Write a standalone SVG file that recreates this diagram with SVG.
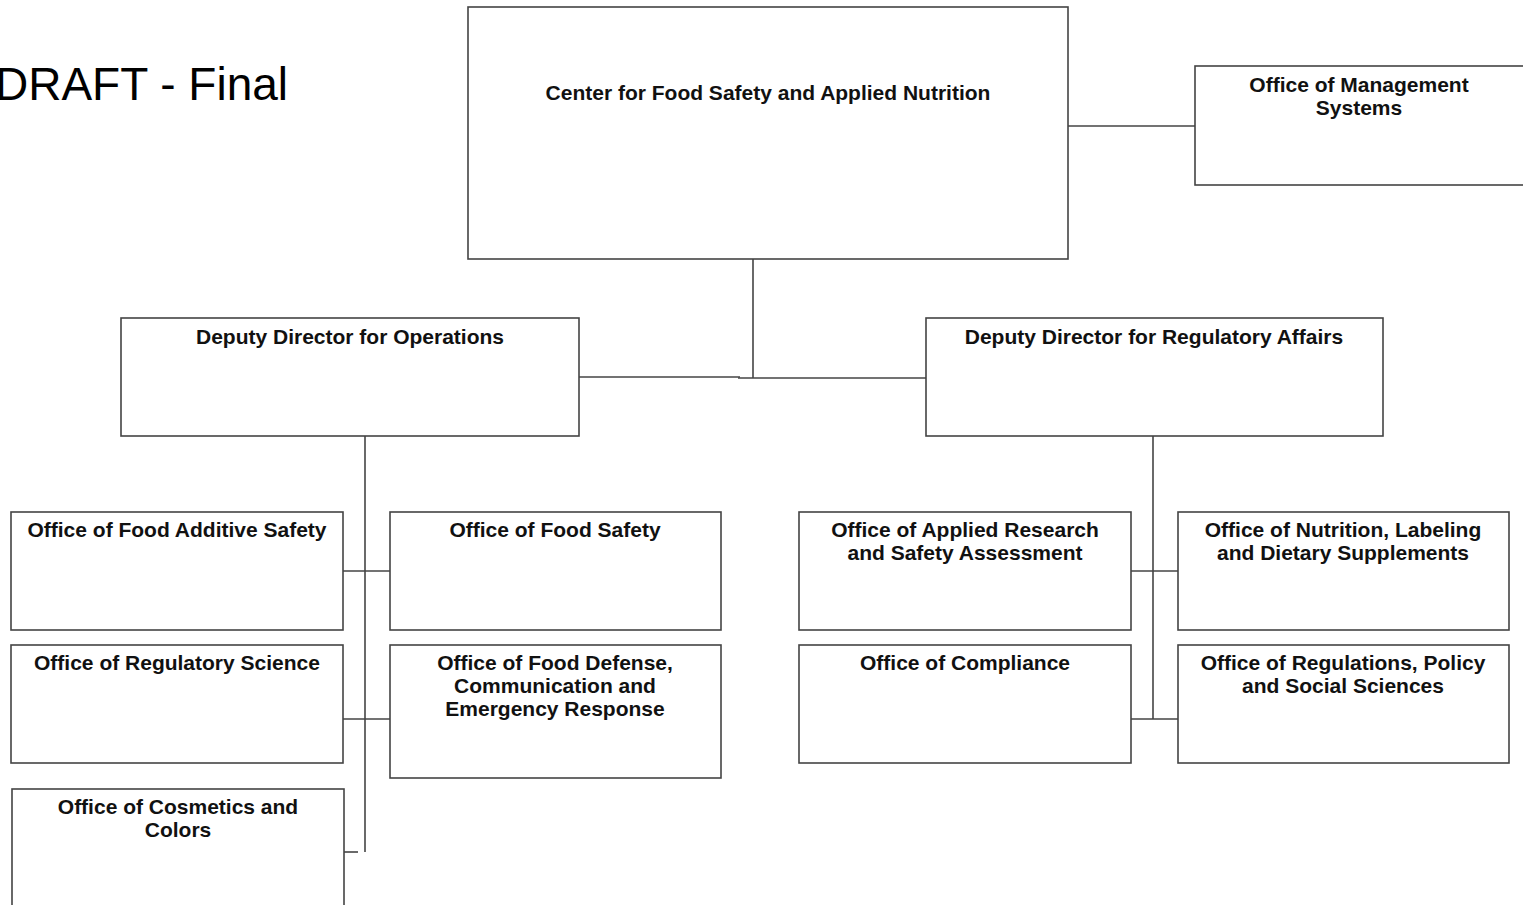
<svg xmlns="http://www.w3.org/2000/svg" width="1523" height="905" viewBox="0 0 1523 905">
<style>
.box{fill:#fff;stroke:#444;stroke-width:1.6}
.ln{fill:none;stroke:#444;stroke-width:1.6}
.t{font-family:"Liberation Sans",Arial,sans-serif;font-weight:bold;font-size:21px;fill:#111;text-anchor:middle}
.d{font-family:"Liberation Sans",Arial,sans-serif;font-size:46px;fill:#000}
</style>
<rect width="1523" height="905" fill="#fff"/>
<text class="d" x="-5" y="100">DRAFT - Final</text>
<g id="connectors">
<line class="ln" x1="1068" y1="126" x2="1195" y2="126"/>
<line class="ln" x1="753" y1="259" x2="753" y2="378"/>
<line class="ln" x1="579" y1="377" x2="740" y2="377"/>
<line class="ln" x1="738" y1="378" x2="926" y2="378"/>
<line class="ln" x1="365" y1="436" x2="365" y2="852"/>
<line class="ln" x1="343" y1="571" x2="390" y2="571"/>
<line class="ln" x1="343" y1="719" x2="390" y2="719"/>
<line class="ln" x1="342" y1="852" x2="358" y2="852"/>
<line class="ln" x1="1153" y1="436" x2="1153" y2="719"/>
<line class="ln" x1="1131" y1="571" x2="1178" y2="571"/>
<line class="ln" x1="1131" y1="719" x2="1178" y2="719"/>
</g>
<g id="center"><rect class="box" x="468" y="7" width="600" height="252"/><text class="t" x="768" y="100">Center for Food Safety and Applied Nutrition</text></g>
<g id="oms"><rect class="box" x="1195" y="66" width="330" height="119"/><text class="t" x="1359" y="92">Office of Management</text><text class="t" x="1359" y="115">Systems</text></g>
<g id="ddo"><rect class="box" x="121" y="318" width="458" height="118"/><text class="t" x="350" y="344">Deputy Director for Operations</text></g>
<g id="ddra"><rect class="box" x="926" y="318" width="457" height="118"/><text class="t" x="1154" y="344">Deputy Director for Regulatory Affairs</text></g>
<g id="ofas"><rect class="box" x="11" y="512" width="332" height="118"/><text class="t" x="177" y="537">Office of Food Additive Safety</text></g>
<g id="ofs"><rect class="box" x="390" y="512" width="331" height="118"/><text class="t" x="555" y="537">Office of Food Safety</text></g>
<g id="ors"><rect class="box" x="11" y="645" width="332" height="118"/><text class="t" x="177" y="670">Office of Regulatory Science</text></g>
<g id="ofdcer"><rect class="box" x="390" y="645" width="331" height="133"/><text class="t" x="555" y="670">Office of Food Defense,</text><text class="t" x="555" y="693">Communication and</text><text class="t" x="555" y="716">Emergency Response</text></g>
<g id="occ"><rect class="box" x="12" y="789" width="332" height="130"/><text class="t" x="178" y="814">Office of Cosmetics and</text><text class="t" x="178" y="837">Colors</text></g>
<g id="oarsa"><rect class="box" x="799" y="512" width="332" height="118"/><text class="t" x="965" y="537">Office of Applied Research</text><text class="t" x="965" y="560">and Safety Assessment</text></g>
<g id="onlds"><rect class="box" x="1178" y="512" width="331" height="118"/><text class="t" x="1343" y="537">Office of Nutrition, Labeling</text><text class="t" x="1343" y="560">and Dietary Supplements</text></g>
<g id="oc"><rect class="box" x="799" y="645" width="332" height="118"/><text class="t" x="965" y="670">Office of Compliance</text></g>
<g id="orpss"><rect class="box" x="1178" y="645" width="331" height="118"/><text class="t" x="1343" y="670">Office of Regulations, Policy</text><text class="t" x="1343" y="693">and Social Sciences</text></g>
</svg>
